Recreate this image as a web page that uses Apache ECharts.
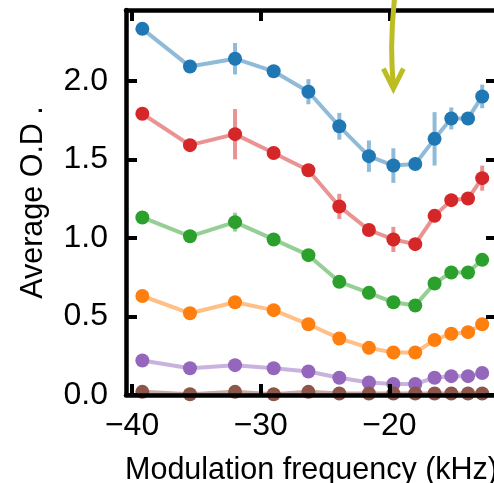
<!DOCTYPE html>
<html>
<head>
<meta charset="utf-8">
<script src="https://cdn.jsdelivr.net/npm/echarts@6/dist/echarts.min.js"></script>
<style>
html,body{margin:0;padding:0;background:#fff;}
#chart{width:494px;height:483px;}
</style>
</head>
<body>
<div id="chart"></div>
<script>
// ---- data ----
const freq = [-39.2, -35.5, -32.0, -29.0, -26.3, -23.9, -21.6, -19.7, -18.0, -16.5, -15.2, -13.9, -12.8];
const blue   = [2.33, 2.09, 2.14, 2.06, 1.93, 1.71, 1.52, 1.46, 1.47, 1.63, 1.76, 1.76, 1.90];
const blueErr= [0.02, 0.02, 0.10, 0.03, 0.08, 0.085, 0.10, 0.11, 0.03, 0.17, 0.07, 0.04, 0.075];
const red    = [1.79, 1.59, 1.66, 1.54, 1.43, 1.20, 1.05, 0.99, 0.96, 1.14, 1.24, 1.25, 1.38];
const redErr = [0.02, 0.02, 0.16, 0.02, 0.03, 0.08, 0.03, 0.08, 0.03, 0.04, 0.03, 0.04, 0.08];
const green  = [1.13, 1.01, 1.10, 0.99, 0.89, 0.72, 0.65, 0.59, 0.57, 0.71, 0.78, 0.78, 0.86];
const greenErr=[0.02, 0.02, 0.06, 0.02, 0.02, 0.02, 0.02, 0.02, 0.02, 0.03, 0.03, 0.02, 0.02];
const orange = [0.63, 0.52, 0.59, 0.54, 0.45, 0.36, 0.30, 0.27, 0.27, 0.35, 0.39, 0.40, 0.45];
const orangeErr=[0.01,0.01, 0.02, 0.01, 0.01, 0.01, 0.01, 0.01, 0.01, 0.01, 0.01, 0.01, 0.01];
const purple = [0.22, 0.17, 0.19, 0.17, 0.15, 0.11, 0.08, 0.07, 0.07, 0.11, 0.12, 0.12, 0.14];
const purpleErr=[0.01,0.01, 0.01, 0.01, 0.01, 0.01, 0.01, 0.01, 0.01, 0.01, 0.01, 0.01, 0.01];
const brown  = [0.02, 0.005, 0.02, 0.005, 0.02, 0.01, 0.01, 0.01, 0.01, 0.01, 0.01, 0.01, 0.01];
const brownErr=[0.005,0.005,0.005,0.005,0.005,0.005,0.005,0.005,0.005,0.005,0.005,0.005,0.005];
const xTicks = [-40, -30, -20];
const yTicks = [0, 0.5, 1.0, 1.5, 2.0];
const arrowStart = [-19.6, 2.53];
const arrowTip = [-19.7, 1.95];

const groups = [
  {vals: blue, err: blueErr, color: '#1f77b4'},
  {vals: red, err: redErr, color: '#d62728'},
  {vals: green, err: greenErr, color: '#2ca02c'},
  {vals: orange, err: orangeErr, color: '#ff7f0e'},
  {vals: purple, err: purpleErr, color: '#9467bd'},
  {vals: brown, err: brownErr, color: '#8c564b'}
];

const chart = echarts.init(document.getElementById('chart'), null, {renderer: 'canvas'});
const FONT = 'Liberation Sans';
const XMIN = -40.47, XMAX = -11.65, YMIN = 0, YMAX = 2.45;

const seriesList = [];
groups.forEach((g, gi) => {
  seriesList.push({
    type: 'custom',
    z: 1,
    clip: true,
    data: freq.map((x, i) => [x, g.vals[i], g.err[i]]),
    renderItem: function (params, api) {
      const x = api.value(0), y = api.value(1), e = api.value(2);
      const p1 = api.coord([x, y - e]);
      const p2 = api.coord([x, y + e]);
      return {
        type: 'line',
        shape: {x1: p1[0], y1: p1[1], x2: p2[0], y2: p2[1]},
        style: {stroke: g.color, opacity: 0.5, lineWidth: 4}
      };
    },
    silent: true
  });
  seriesList.push({
    type: 'line',
    z: 2,
    data: freq.map((x, i) => [x, g.vals[i]]),
    symbol: 'circle',
    symbolSize: 14,
    showSymbol: true,
    itemStyle: {color: g.color, opacity: 1},
    lineStyle: {color: g.color, opacity: 0.5, width: 4},
    emphasis: {disabled: true},
    animation: false
  });
});

const fmtX = v => String(Math.round(v)).replace('-', '\u2212');

chart.setOption({
  animation: false,
  grid: {left: 126, right: -3, top: 10, bottom: 88, containLabel: false, outerBoundsMode: 'none'},
  xAxis: [{
    type: 'value', min: XMIN, max: XMAX, position: 'bottom', z: 5,
    name: 'Modulation frequency (kHz)', nameLocation: 'middle', nameGap: 60,
    nameTextStyle: {fontFamily: FONT, fontSize: 30.5, color: '#000'},
    axisLine: {show: true, onZero: false, lineStyle: {color: '#000', width: 4.5}},
    axisTick: {show: true, inside: true, length: 11, customValues: xTicks, lineStyle: {color: '#000', width: 4}},
    axisLabel: {show: true, customValues: xTicks, formatter: fmtX, margin: 15, fontFamily: FONT, fontSize: 32, color: '#000'},
    splitLine: {show: false}
  }, {
    type: 'value', min: XMIN, max: XMAX, position: 'top', z: 5,
    axisLine: {show: true, onZero: false, lineStyle: {color: '#000', width: 4.5}},
    axisTick: {show: true, inside: true, length: 11, customValues: xTicks, lineStyle: {color: '#000', width: 4}},
    axisLabel: {show: false},
    splitLine: {show: false}
  }],
  yAxis: [{
    type: 'value', min: YMIN, max: YMAX, position: 'left', z: 5,
    name: 'Average O.D .', nameLocation: 'middle', nameGap: 77, nameRotate: 90,
    nameTextStyle: {fontFamily: FONT, fontSize: 30.5, color: '#000'},
    axisLine: {show: true, onZero: false, lineStyle: {color: '#000', width: 4.5}},
    axisTick: {show: true, inside: true, length: 11, customValues: yTicks, lineStyle: {color: '#000', width: 4}},
    axisLabel: {show: true, customValues: yTicks, formatter: v => v.toFixed(1), margin: 18, fontFamily: FONT, fontSize: 32, color: '#000'},
    splitLine: {show: false}
  }, {
    type: 'value', min: YMIN, max: YMAX, position: 'right', z: 5,
    axisLine: {show: true, onZero: false, lineStyle: {color: '#000', width: 4.5}},
    axisTick: {show: true, inside: true, length: 11, customValues: yTicks, lineStyle: {color: '#000', width: 4}},
    axisLabel: {show: false},
    splitLine: {show: false}
  }],
  series: seriesList
});

// annotation arrow, anchored in data coordinates
const pStart = chart.convertToPixel({xAxisIndex: 0, yAxisIndex: 0}, arrowStart);
const pTip = chart.convertToPixel({xAxisIndex: 0, yAxisIndex: 0}, arrowTip);
const midY = (pStart[1] + pTip[1]) / 2;
chart.setOption({
  graphic: [{
    type: 'bezierCurve', z: 10,
    shape: {x1: pStart[0], y1: pStart[1], x2: pTip[0], y2: pTip[1] - 3, cpx1: pTip[0] - 4, cpy1: midY},
    style: {stroke: '#bcbd22', lineWidth: 5, fill: null}
  }, {
    type: 'polyline', z: 10,
    shape: {points: [[pTip[0] - 10, pTip[1] - 20], [pTip[0], pTip[1]], [pTip[0] + 10, pTip[1] - 20]]},
    style: {stroke: '#bcbd22', lineWidth: 5, fill: null, lineJoin: 'miter'}
  }]
});
</script>
</body>
</html>
